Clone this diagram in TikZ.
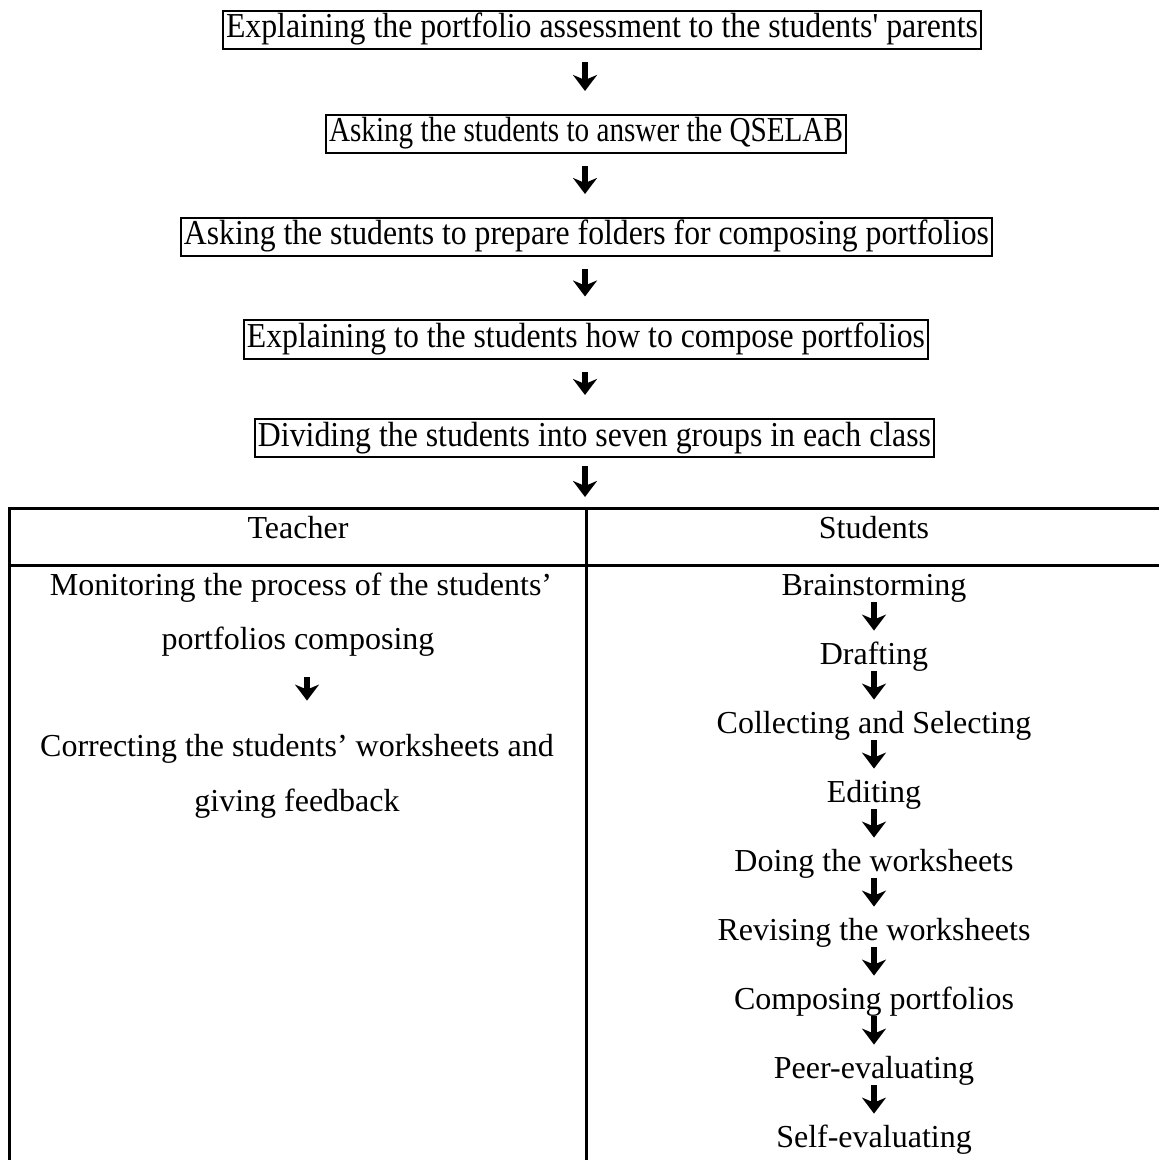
\documentclass[tikz,border=0pt]{standalone}
\usepackage{fontspec}
\setmainfont{Liberation Serif}
\usepackage{graphicx}
\usetikzlibrary{arrows.meta}

\tikzset{
	stage/.style = {draw, line width = 1pt, inner xsep = 1.5pt, inner ysep = 1.5pt,
		text height = 12pt, text depth = 4pt, font = \fontsize{17.5}{19}\selectfont},
	cell/.style = {inner sep = 0pt, text height = 11.5pt, text depth = 3.5pt,
		font = \fontsize{16}{19}\selectfont},
	rule/.style = {line width = 1.5pt},
	flow/.style = {line width = 3.2pt, -{Stealth[length = 8pt, width = 12pt, inset = 2.5pt]}},
}

\begin{document}
\begin{tikzpicture}[x = 0.5pt, y = -0.5pt]
	\useasboundingbox (0,0) rectangle (1158,1160);

	\coordinate (spine) at (585,508);

	\node[stage] (explain) at (602,30) {\resizebox{376pt}{\height}{Explaining the portfolio assessment to the students\textquotesingle{} parents}};
	\node[stage] (qselab) at (586,134) {\resizebox{257pt}{\height}{Asking the students to answer the QSELAB}};
	\node[stage] (folders) at (586.5,237) {\resizebox{402.5pt}{\height}{Asking the students to prepare folders for composing portfolios}};
	\node[stage] (howto) at (586,339.5) {\resizebox{339pt}{\height}{Explaining to the students how to compose portfolios}};
	\node[stage] (groups) at (594.5,438) {\resizebox{336.5pt}{\height}{Dividing the students into seven groups in each class}};

	\draw[rule] (9.5,1162) -- (9.5,508) -- (1160,508);
	\draw[rule] (9.5,565) -- (1160,565);
	\draw[rule] (586,508) -- (586,1162);

	\node[cell] (teacher) at (298,530) {Teacher};
	\node[cell] (students) at (874,530) {Students};

	\node[cell] (monitor) at (301,587) {Monitoring the process of the students’};
	\node[cell] (monitorb) at (298,641) {portfolios composing};
	\node[cell] (correct) at (297,748) {Correcting the students’ worksheets and};
	\node[cell] (correctb) at (297,803) {giving feedback};

	\node[cell] (brain) at (874,587) {Brainstorming};
	\node[cell] (draft) at (874,656) {Drafting};
	\node[cell] (collect) at (874,725) {Collecting and Selecting};
	\node[cell] (edit) at (874,794) {Editing};
	\node[cell] (doing) at (874,863) {Doing the worksheets};
	\node[cell] (revise) at (874,932) {Revising the worksheets};
	\node[cell] (compose) at (874,1001) {Composing portfolios};
	\node[cell] (peer) at (874,1070) {Peer-evaluating};
	\node[cell] (self) at (874,1139) {Self-evaluating};

	\begin{scope}[flow, shorten <= 6pt, shorten >= 11.5pt]
		\draw (explain.south -| spine) -- (qselab.north -| spine);
		\draw (qselab.south -| spine) -- (folders.north -| spine);
		\draw (folders.south -| spine) -- (howto.north -| spine);
		\draw (howto.south -| spine) -- (groups.north -| spine);
	\end{scope}
	\draw[flow, shorten <= 4pt, shorten >= 5.5pt] (groups.south -| spine) -- (spine);

	\draw[flow, shorten <= 10.5pt, shorten >= 16pt] (monitorb.south -| 307,0) -- (correct.north -| 307,0);

	\begin{scope}[flow, shorten >= 5pt]
		\foreach \a/\b in {brain/draft, draft/collect, collect/edit, edit/doing,
			doing/revise, revise/compose, compose/peer, peer/self}
			\draw (\a.south) -- (\b.north);
	\end{scope}
\end{tikzpicture}
\end{document}
